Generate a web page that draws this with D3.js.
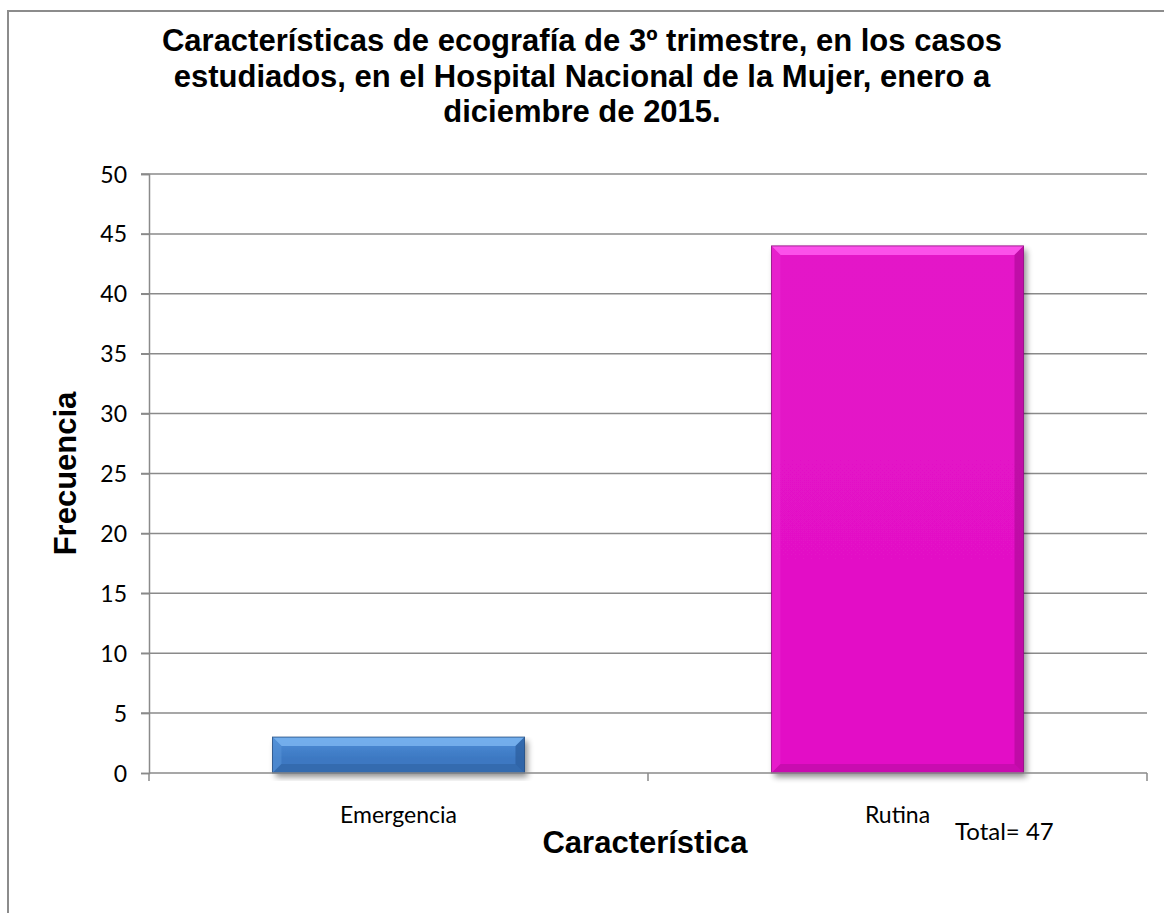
<!DOCTYPE html>
<html>
<head>
<meta charset="utf-8">
<script src="https://cdn.jsdelivr.net/npm/d3@7"></script>
<style>
  html, body { margin: 0; padding: 0; background: #fff; }
  svg { display: block; }
</style>
</head>
<body>
<svg id="chart" width="1164" height="913"></svg>
<script>
// Chart data
const categories = ["Emergencia", "Rutina"];
const frequencies = [3, 44];
const yTicks = [0, 5, 10, 15, 20, 25, 30, 35, 40, 45, 50];
const titleLines = [
  "Características de ecografía de 3º trimestre, en los casos",
  "estudiados, en el Hospital Nacional de la Mujer, enero a",
  "diciembre de 2015."
];
const totalLabel = "Total= 47";

const barPalette = [
  { top: "#4f8fd8", base: "#3c78c2", light: "#7ab4f0", side: "#5a95da", dark: "#2b5d9c", edge: "#1f4a80" },
  { top: "#e414c8", base: "#e311c6", light: "#ff5cf0", side: "#ea2ad0", dark: "#b00b9a", edge: "#8e0a7e" }
];

const svg = d3.select("#chart");
const W = 1164, H = 913;

const defs = svg.append("defs");
const shadow = defs.append("filter").attr("id", "shadow")
  .attr("x", "-10%").attr("y", "-10%").attr("width", "130%").attr("height", "130%");
shadow.append("feGaussianBlur").attr("in", "SourceAlpha").attr("stdDeviation", 3).attr("result", "b");
shadow.append("feOffset").attr("in", "b").attr("dx", 3).attr("dy", 4).attr("result", "o");
shadow.append("feComponentTransfer").attr("in", "o").attr("result", "s")
  .append("feFuncA").attr("type", "linear").attr("slope", 0.45);
const merge = shadow.append("feMerge");
merge.append("feMergeNode").attr("in", "s");
merge.append("feMergeNode").attr("in", "SourceGraphic");

barPalette.forEach((c, i) => {
  const g = defs.append("linearGradient").attr("id", "grad" + i)
    .attr("x1", 0).attr("y1", 0).attr("x2", 0).attr("y2", 1);
  g.append("stop").attr("offset", "0%").attr("stop-color", c.top);
  g.append("stop").attr("offset", "60%").attr("stop-color", c.base);
  g.append("stop").attr("offset", "100%").attr("stop-color", c.base);
});

// Outer frame
svg.append("rect")
  .attr("x", 8).attr("y", 11).attr("width", W + 20).attr("height", H + 20)
  .attr("fill", "#fff").attr("stroke", "#8c8c8c").attr("stroke-width", 2);

// Title
const title = svg.append("text")
  .attr("text-anchor", "middle")
  .attr("font-family", "'Liberation Sans', Arial, sans-serif")
  .attr("font-weight", "bold").attr("font-size", 31).attr("fill", "#000");
titleLines.forEach((t, i) => {
  title.append("tspan").attr("x", 582).attr("y", 51 + i * 35.5).text(t);
});

const margin = { left: 149, right: 1147, top: 174, bottom: 773 };

const y = d3.scaleLinear().domain([0, 50]).range([margin.bottom, margin.top]);
const x = d3.scaleBand().domain(categories).range([margin.left, margin.right])
  .paddingInner(0.495).paddingOuter(0.2475);

// Gridlines
svg.append("g").selectAll("line").data(yTicks.filter(d => d > 0)).join("line")
  .attr("x1", margin.left - 8).attr("x2", margin.right)
  .attr("y1", d => y(d)).attr("y2", d => y(d))
  .attr("stroke", "#8a8a8a").attr("stroke-width", 1.5);

// Y axis
const yAxis = svg.append("g").attr("transform", `translate(${margin.left},0)`)
  .call(d3.axisLeft(y).tickValues(yTicks).tickSize(8).tickPadding(14));
yAxis.select(".domain").attr("stroke", "#8a8a8a").attr("stroke-width", 1.5);
yAxis.selectAll(".tick line").attr("stroke", "#8a8a8a").attr("stroke-width", 1.5);
yAxis.selectAll(".tick text")
  .attr("font-family", "Lato, 'Open Sans', sans-serif").attr("font-size", 23)
  .attr("fill", "#000").attr("dy", "0.35em");

// Bars with bevel
const bars = svg.append("g");
categories.forEach((cat, i) => {
  const c = barPalette[i];
  const x0 = x(cat), x1 = x0 + x.bandwidth();
  const y0 = y(frequencies[i]), y1 = y(0);
  const b = Math.min(9, (y1 - y0) / 2.5);
  const g = bars.append("g");
  g.append("rect").attr("x", x0).attr("y", y0)
    .attr("width", x1 - x0).attr("height", y1 - y0)
    .attr("fill", `url(#grad${i})`).attr("filter", "url(#shadow)");
  // top bevel
  g.append("polygon").attr("points", [[x0, y0], [x1, y0], [x1 - b, y0 + b], [x0 + b, y0 + b]].join(" "))
    .attr("fill", c.light).attr("opacity", 0.85);
  // left bevel
  g.append("polygon").attr("points", [[x0, y0], [x0 + b, y0 + b], [x0 + b, y1 - b], [x0, y1]].join(" "))
    .attr("fill", c.side).attr("opacity", 0.5);
  // right bevel
  g.append("polygon").attr("points", [[x1, y0], [x1, y1], [x1 - b, y1 - b], [x1 - b, y0 + b]].join(" "))
    .attr("fill", c.dark).attr("opacity", 0.7);
  // bottom bevel
  g.append("polygon").attr("points", [[x0, y1], [x0 + b, y1 - b], [x1 - b, y1 - b], [x1, y1]].join(" "))
    .attr("fill", c.dark).attr("opacity", 0.5);
  g.append("rect").attr("x", x0).attr("y", y0)
    .attr("width", x1 - x0).attr("height", y1 - y0)
    .attr("fill", "none").attr("stroke", c.edge).attr("stroke-width", 1).attr("opacity", 0.8);
});

// X axis
const xAxis = svg.append("g").attr("transform", `translate(0,${margin.bottom})`);
xAxis.append("line").attr("x1", margin.left).attr("x2", margin.right)
  .attr("stroke", "#8a8a8a").attr("stroke-width", 1.5);
const boundaries = [margin.left, (margin.left + margin.right) / 2, margin.right];
xAxis.selectAll("line.tk").data(boundaries).join("line").attr("class", "tk")
  .attr("x1", d => d).attr("x2", d => d).attr("y1", 0).attr("y2", 8)
  .attr("stroke", "#8a8a8a").attr("stroke-width", 1.5);
xAxis.selectAll("text").data(categories).join("text")
  .attr("x", d => x(d) + x.bandwidth() / 2).attr("y", 50)
  .attr("text-anchor", "middle")
  .attr("font-family", "Lato, 'Open Sans', sans-serif").attr("font-size", 23)
  .attr("fill", "#000").text(d => d);

// Axis titles
svg.append("text")
  .attr("transform", `translate(76,${(margin.top + margin.bottom) / 2}) rotate(-90)`)
  .attr("text-anchor", "middle")
  .attr("font-family", "'Liberation Sans', Arial, sans-serif")
  .attr("font-weight", "bold").attr("font-size", 31).text("Frecuencia");
svg.append("text")
  .attr("x", 645).attr("y", 853).attr("text-anchor", "middle")
  .attr("font-family", "'Liberation Sans', Arial, sans-serif")
  .attr("font-weight", "bold").attr("font-size", 31).text("Característica");

svg.append("text")
  .attr("x", 955).attr("y", 840)
  .attr("font-family", "Lato, 'Open Sans', sans-serif").attr("font-size", 24)
  .attr("fill", "#000").text(totalLabel);
</script>
</body>
</html>
